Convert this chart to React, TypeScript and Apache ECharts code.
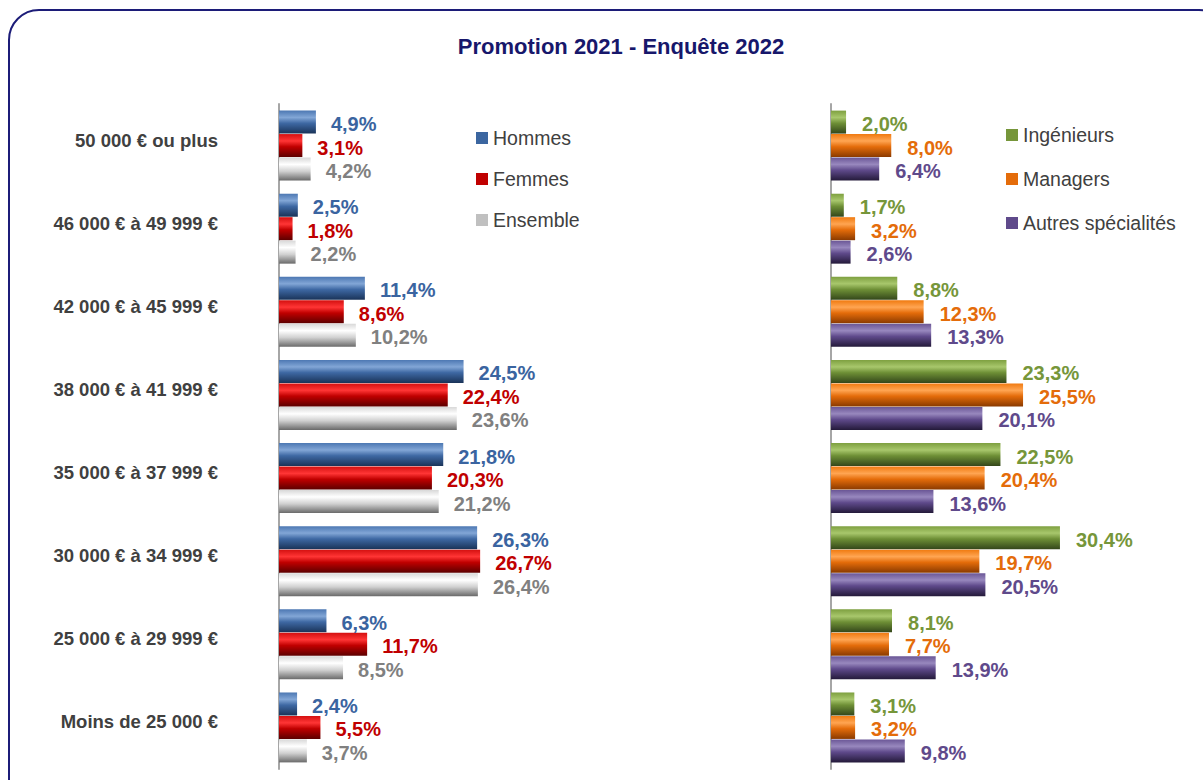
import React, { useEffect, useRef } from "react";
import * as echarts from "echarts";

const categories = [
  "50 000 € ou plus",
  "46 000 € à 49 999 €",
  "42 000 € à 45 999 €",
  "38 000 € à 41 999 €",
  "35 000 € à 37 999 €",
  "30 000 € à 34 999 €",
  "25 000 € à 29 999 €",
  "Moins de 25 000 €",
];

const hommes = [4.9, 2.5, 11.4, 24.5, 21.8, 26.3, 6.3, 2.4];
const femmes = [3.1, 1.8, 8.6, 22.4, 20.3, 26.7, 11.7, 5.5];
const ensemble = [4.2, 2.2, 10.2, 23.6, 21.2, 26.4, 8.5, 3.7];
const ingenieurs = [2.0, 1.7, 8.8, 23.3, 22.5, 30.4, 8.1, 3.1];
const managers = [8.0, 3.2, 12.3, 25.5, 20.4, 19.7, 7.7, 3.2];
const autres = [6.4, 2.6, 13.3, 20.1, 13.6, 20.5, 13.9, 9.8];

const FONT = "'Liberation Sans', Arial, sans-serif";

function grad(stops: [number, string][]) {
  return new echarts.graphic.LinearGradient(
    0,
    0,
    0,
    1,
    stops.map(([offset, color]) => ({ offset, color }))
  );
}

const fmt = (p: any) => p.value.toFixed(1).replace(".", ",") + "%";

function makeSeries(
  name: string,
  data: number[],
  idx: number,
  fill: any,
  labelColor: string,
  dist: number
) {
  return {
    name,
    type: "bar",
    data,
    xAxisIndex: idx,
    yAxisIndex: idx,
    barWidth: 23,
    barGap: "2%",
    itemStyle: { color: fill },
    label: {
      show: true,
      position: "right",
      distance: dist,
      offset: [0, 2],
      formatter: fmt,
      color: labelColor,
      fontFamily: FONT,
      fontWeight: "bold",
      fontSize: 20,
    },
  };
}

export default function App() {
  const ref = useRef<HTMLDivElement>(null);

  useEffect(() => {
    if (!ref.current) return;
    const chart = echarts.init(ref.current, null, { renderer: "svg" });

    const blue = grad([
      [0, "#4d78b3"],
      [0.3, "#82a6d6"],
      [0.55, "#3e68a3"],
      [1, "#1a3358"],
    ]);
    const red = grad([
      [0, "#d41010"],
      [0.3, "#ff3535"],
      [0.55, "#c00000"],
      [1, "#5c0000"],
    ]);
    const grey = grad([
      [0, "#d8d8d8"],
      [0.3, "#ffffff"],
      [0.6, "#d0d0d0"],
      [1, "#6a6a6a"],
    ]);
    const green = grad([
      [0, "#7ea040"],
      [0.3, "#a8c76c"],
      [0.55, "#6e8f36"],
      [1, "#33461a"],
    ]);
    const orange = grad([
      [0, "#f07a10"],
      [0.3, "#ffa552"],
      [0.55, "#e46c0a"],
      [1, "#8a3a00"],
    ]);
    const purple = grad([
      [0, "#6a5696"],
      [0.3, "#9888be"],
      [0.55, "#5f4a8b"],
      [1, "#241a3a"],
    ]);

    const yAxisCommon = {
      type: "category",
      data: categories,
      inverse: true,
      axisTick: { show: false },
      axisLine: { show: true, lineStyle: { color: "#a6a6a6", width: 2 } },
      splitLine: { show: false },
    };

    const legendText = {
      color: "#404040",
      fontFamily: FONT,
      fontSize: 19.5,
    };

    chart.setOption({
      animation: false,
      backgroundColor: "#ffffff",
      title: {
        text: "Promotion 2021 - Enquête 2022",
        left: 616,
        top: 30,
        textAlign: "center",
        textStyle: {
          color: "#17176b",
          fontFamily: FONT,
          fontWeight: "bold",
          fontSize: 22,
        },
      },
      graphic: [
        {
          type: "rect",
          shape: { x: 9, y: 10, width: 1220, height: 800, r: 30 },
          style: { fill: "none", stroke: "#1c1c78", lineWidth: 2 },
          silent: true,
          z: 100,
        },
      ],
      legend: [
        {
          orient: "vertical",
          left: 476,
          top: 128,
          padding: 0,
          itemWidth: 12,
          itemHeight: 12,
          itemGap: 21,
          icon: "rect",
          textStyle: legendText,
          data: [
            { name: "Hommes", itemStyle: { color: "#3b66a0" } },
            { name: "Femmes", itemStyle: { color: "#c00000" } },
            { name: "Ensemble", itemStyle: { color: "#c0c0c0" } },
          ],
        },
        {
          orient: "vertical",
          left: 1006,
          top: 125,
          padding: 0,
          itemWidth: 12,
          itemHeight: 12,
          itemGap: 24,
          icon: "rect",
          textStyle: legendText,
          data: [
            { name: "Ingénieurs", itemStyle: { color: "#76963a" } },
            { name: "Managers", itemStyle: { color: "#e46c0a" } },
            { name: "Autres spécialités", itemStyle: { color: "#5f4a8b" } },
          ],
        },
      ],
      grid: [
        { left: 279, top: 104, width: 226, height: 665 },
        { left: 831, top: 104, width: 241, height: 665 },
      ],
      xAxis: [
        { type: "value", gridIndex: 0, min: 0, max: 30, show: false },
        { type: "value", gridIndex: 1, min: 0, max: 32, show: false },
      ],
      yAxis: [
        {
          ...yAxisCommon,
          gridIndex: 0,
          axisLabel: {
            show: true,
            margin: 61,
            formatter: (v: string) => "{c|" + v + "}",
            rich: {
              c: {
                color: "#404040",
                fontFamily: FONT,
                fontWeight: "bold",
                fontSize: 18.5,
                padding: [0, 0, 11, 0],
              },
            },
          },
        },
        {
          ...yAxisCommon,
          gridIndex: 1,
          axisLabel: { show: false },
        },
      ],
      series: [
        makeSeries("Hommes", hommes, 0, blue, "#3a64a0", 15),
        makeSeries("Femmes", femmes, 0, red, "#c00000", 15),
        makeSeries("Ensemble", ensemble, 0, grey, "#808080", 15),
        makeSeries("Ingénieurs", ingenieurs, 1, green, "#76963a", 16),
        makeSeries("Managers", managers, 1, orange, "#e46c0a", 16),
        makeSeries("Autres spécialités", autres, 1, purple, "#5f4a8b", 16),
      ],
    });

    return () => chart.dispose();
  }, []);

  return (
    <div
      ref={ref}
      style={{ position: "fixed", left: 0, top: 0, width: 1203, height: 780 }}
    />
  );
}
